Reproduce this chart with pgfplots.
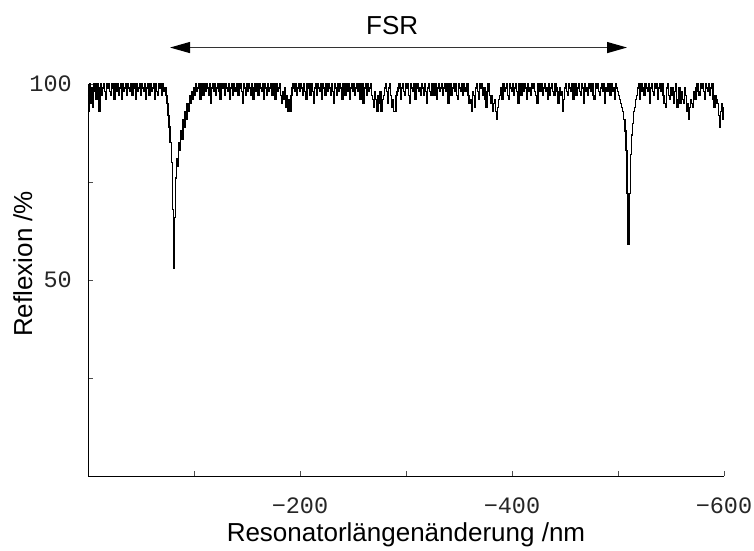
\documentclass[border=0pt]{standalone}
\usepackage{fontspec}
\setmainfont{Liberation Sans}
\newfontfamily\monofont{Liberation Mono}
\usepackage{pgfplots}
\pgfplotsset{compat=1.18}
\usetikzlibrary{arrows.meta}

\begin{document}
\begin{tikzpicture}[x=1pt,y=1pt]
\useasboundingbox (0,0) rectangle (754,550);
\begin{axis}[
  at={(88pt,74pt)}, anchor=south west,
  scale only axis, width=636pt, height=392pt,
  xmin=-600, xmax=0, x dir=reverse,
  ymin=0, ymax=100,
  axis lines*=left,
  axis line style={-, line width=0.9pt},
  xtick={-200,-400,-600}, xticklabels={−200,−400,−600},
  minor xtick={-100,-300,-500},
  ytick={50,100}, yticklabels={50,100},
  minor ytick={25,75},
  tick align=inside,
  major tick length=5pt, minor tick length=5pt,
  tick style={black!70, line width=0.6pt},
  xticklabel style={font=\monofont\fontsize{23.5}{28}\selectfont, text=black!85, anchor=base, yshift=-37pt, inner sep=0pt},
  yticklabel style={font=\monofont\fontsize{23.5}{28}\selectfont, text=black!85, anchor=east, xshift=-16pt, inner sep=0pt},
  xlabel={Resonatorlängenänderung /nm},
  ylabel={Reflexion /\%},
  xlabel style={at={(axis description cs:0.5,-0.168)}, anchor=base, font=\fontsize{26}{31}\selectfont},
  ylabel style={at={(axis description cs:-0.088,0.541)}, anchor=base, font=\fontsize{26}{31}\selectfont},
  clip=false,
]
\addplot[black, line width=1.3pt, const plot mark mid] coordinates {
(0,97) (-1,93) (-2,100) (-3,95) (-4,99) (-5,94) (-6,100) (-7,98) (-8,96) (-9,100)
(-10,99) (-11,93) (-12,100) (-13,97) (-14,99) (-15,100) (-16,98) (-17,96) (-18,100) (-19,99)
(-20,100) (-21,98) (-22,97) (-23,100) (-24,99) (-25,96) (-26,100) (-27,98) (-28,100) (-29,97)
(-30,99) (-31,100) (-32,96) (-33,100) (-34,98) (-35,99) (-36,100) (-37,97) (-38,100) (-39,99)
(-40,98) (-41,100) (-42,97) (-43,99) (-44,100) (-45,96) (-46,100) (-47,98) (-48,99) (-49,100)
(-50,97) (-51,100) (-52,99) (-53,98) (-54,100) (-55,96) (-56,99) (-57,100) (-58,97) (-59,100)
(-60,98) (-61,99) (-62,100) (-63,96) (-64,100) (-65,98) (-66,97) (-67,100) (-68,99) (-69,100)
(-70,97) (-71,100) (-72,98) (-73,99) (-74,97)
(-75,95) (-76,92) (-77,89) (-78,85) (-79,80) (-80,68) (-81,53) (-82,66) (-83,76) (-84,81)
(-85,79) (-86,85) (-87,83) (-88,88) (-89,86) (-90,91) (-91,89) (-92,93) (-93,91) (-94,95)
(-95,93) (-96,97) (-97,95) (-98,98) (-99,96) (-100,99)
(-101,97) (-102,100) (-103,98) (-104,99) (-105,100) (-106,96) (-107,100) (-108,99) (-109,97) (-110,100)
(-111,98) (-112,100) (-113,99) (-114,97) (-115,100) (-116,95) (-117,99) (-118,100) (-119,98) (-120,100)
(-121,97) (-122,99) (-123,100) (-124,98) (-125,96) (-126,100) (-127,99) (-128,100) (-129,97) (-130,100)
(-131,99) (-132,98) (-133,100) (-134,96) (-135,99) (-136,100) (-137,97) (-138,100) (-139,98) (-140,99)
(-141,100) (-142,97) (-143,99) (-144,100) (-145,98) (-146,95) (-147,100) (-148,99) (-149,97) (-150,100)
(-151,98) (-152,100) (-153,99) (-154,97) (-155,100) (-156,96) (-157,99) (-158,100) (-159,98) (-160,100)
(-161,97) (-162,100) (-163,99) (-164,98) (-165,100) (-166,96) (-167,100) (-168,99) (-169,97) (-170,100)
(-171,98) (-172,99) (-173,100) (-174,97) (-175,100) (-176,99) (-177,96) (-178,100) (-179,98) (-180,99)
(-181,100) (-182,97) (-183,95) (-184,98) (-185,96) (-186,99) (-187,94) (-188,97) (-189,93) (-190,96)
(-191,93) (-192,97) (-193,99) (-194,100) (-195,98) (-196,100) (-197,97) (-198,99) (-199,100) (-200,98)
(-201,100) (-202,99) (-203,97) (-204,100) (-205,98) (-206,96) (-207,100) (-208,99) (-209,100) (-210,97)
(-211,100) (-212,98) (-213,95) (-214,99) (-215,100) (-216,97) (-217,100) (-218,99) (-219,98) (-220,100)
(-221,96) (-222,100) (-223,99) (-224,97) (-225,100) (-226,98) (-227,100) (-228,99) (-229,97) (-230,100)
(-231,98) (-232,95) (-233,100) (-234,99) (-235,97) (-236,100) (-237,98) (-238,100) (-239,99) (-240,96)
(-241,100) (-242,99) (-243,97) (-244,100) (-245,98) (-246,100) (-247,96) (-248,99) (-249,100) (-250,98)
(-251,100) (-252,97) (-253,99) (-254,100) (-255,98) (-256,100) (-257,96) (-258,99) (-259,100) (-260,95)
(-261,99) (-262,100) (-263,97) (-264,100) (-265,98) (-266,99) (-267,100) (-268,97) (-269,96) (-270,94)
(-271,98) (-272,96) (-273,93) (-274,97) (-275,95) (-276,98) (-277,93) (-278,96) (-279,97) (-280,99)
(-281,100) (-282,98) (-283,95) (-284,99) (-285,100) (-286,97) (-287,94) (-288,96) (-289,93) (-290,93)
(-291,97) (-292,98) (-293,99) (-294,100) (-295,96) (-296,99) (-297,100) (-298,98) (-299,97) (-300,100)
(-301,99) (-302,100) (-303,97) (-304,95) (-305,100) (-306,99) (-307,98) (-308,100) (-309,96) (-310,99)
(-311,100) (-312,98) (-313,99) (-314,97) (-315,100) (-316,99) (-317,97) (-318,100) (-319,98) (-320,95)
(-321,99) (-322,100) (-323,98) (-324,97) (-325,100) (-326,99) (-327,97) (-328,100) (-329,96) (-330,99)
(-331,100) (-332,98) (-333,99) (-334,100) (-335,97) (-336,99) (-337,100) (-338,98) (-339,100) (-340,95)
(-341,99) (-342,100) (-343,97) (-344,99) (-345,100) (-346,98) (-347,100) (-348,97) (-349,96) (-350,100)
(-351,99) (-352,98) (-353,100) (-354,97) (-355,100) (-356,98) (-357,99) (-358,100) (-359,97) (-360,95)
(-361,96) (-362,93) (-363,98) (-364,97) (-365,94) (-366,99) (-367,100) (-368,98) (-369,96) (-370,100)
(-371,99) (-372,100) (-373,97) (-374,99) (-375,96) (-376,94) (-377,98) (-378,100) (-379,97) (-380,95)
(-381,97) (-382,93) (-383,95) (-384,96) (-385,93) (-386,91) (-387,94) (-388,96) (-389,97) (-390,99)
(-391,96) (-392,100) (-393,98) (-394,99) (-395,100) (-396,97) (-397,96) (-398,100) (-399,99) (-400,98)
(-401,100) (-402,97) (-403,99) (-404,100) (-405,98) (-406,95) (-407,100) (-408,99) (-409,97) (-410,100)
(-411,98) (-412,100) (-413,99) (-414,96) (-415,100) (-416,98) (-417,99) (-418,97) (-419,100) (-420,99)
(-421,100) (-422,98) (-423,97) (-424,95) (-425,100) (-426,99) (-427,98) (-428,100) (-429,97) (-430,99)
(-431,100) (-432,98) (-433,99) (-434,96) (-435,100) (-436,97) (-437,99) (-438,100) (-439,98) (-440,97)
(-441,100) (-442,99) (-443,98) (-444,95) (-445,99) (-446,97) (-447,98) (-448,93) (-449,96) (-450,99)
(-451,100) (-452,98) (-453,97) (-454,100) (-455,99) (-456,98) (-457,100) (-458,96) (-459,99) (-460,100)
(-461,97) (-462,99) (-463,100) (-464,98) (-465,97) (-466,100) (-467,99) (-468,95) (-469,100) (-470,98)
(-471,99) (-472,97) (-473,100) (-474,99) (-475,98) (-476,100) (-477,97) (-478,96) (-479,100) (-480,99)
(-481,100) (-482,98) (-483,97) (-484,99) (-485,100) (-486,98) (-487,100) (-488,95) (-489,99) (-490,98)
(-491,100) (-492,99) (-493,97) (-494,100) (-495,98) (-496,99) (-497,96) (-498,100) (-499,99) (-500,98)
(-501,97) (-502,96) (-503,95) (-504,94) (-505,93) (-506,91) (-507,88) (-508,83) (-509,72) (-510,59)
(-511,72) (-512,82) (-513,87) (-514,90) (-515,93) (-516,94) (-517,96) (-518,97) (-519,99) (-520,100)
(-521,96) (-522,100) (-523,98) (-524,99) (-525,97) (-526,100) (-527,99) (-528,98) (-529,100) (-530,95)
(-531,99) (-532,100) (-533,98) (-534,97) (-535,100) (-536,99) (-537,100) (-538,96) (-539,99) (-540,100)
(-541,98) (-542,100) (-543,97) (-544,95) (-545,94) (-546,99) (-547,100) (-548,97) (-549,96) (-550,99)
(-551,97) (-552,99) (-553,95) (-554,98) (-555,100) (-556,94) (-557,96) (-558,99) (-559,95) (-560,98)
(-561,96) (-562,95) (-563,99) (-564,97) (-565,93) (-566,95) (-567,91) (-568,94) (-569,96) (-570,95)
(-571,94) (-572,98) (-573,96) (-574,99) (-575,100) (-576,98) (-577,97) (-578,100) (-579,99) (-580,100)
(-581,98) (-582,96) (-583,100) (-584,99) (-585,98) (-586,100) (-587,97) (-588,99) (-589,100) (-590,96)
(-591,94) (-592,97) (-593,96) (-594,95) (-595,92) (-596,89) (-597,93) (-598,95) (-599,91) (-600,94)
};
\draw[black!80, line width=1.2pt, {Triangle[length=20pt,width=11pt,black]}-{Triangle[length=20pt,width=11pt,black]}] (axis cs:-77.4,109.3) -- (axis cs:-508.5,109.3);
\node[anchor=base, font=\fontsize{26}{31}\selectfont, inner sep=0pt] at (axis cs:-287,112.5) {FSR};
\end{axis}
\end{tikzpicture}
\end{document}
